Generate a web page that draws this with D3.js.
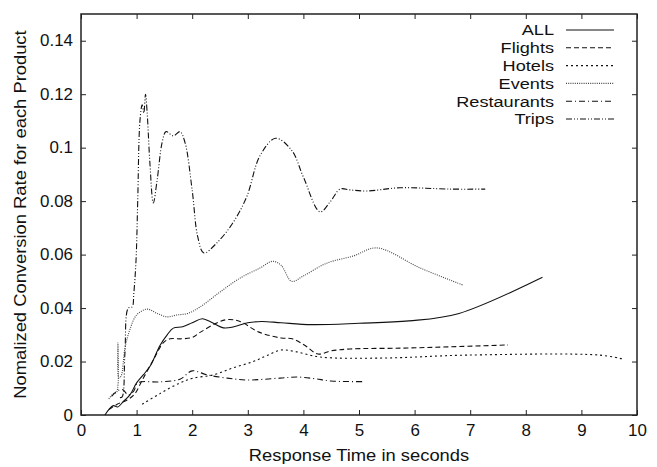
<!DOCTYPE html>
<html><head><meta charset="utf-8">
<script src="https://cdn.jsdelivr.net/npm/d3@7"></script>
<style>
body{margin:0;background:#fff}
svg{display:block;font-family:"Liberation Sans",Arial,Helvetica,sans-serif}
</style></head>
<body><svg id="c" width="657" height="467"></svg>
<script>
const xTicks = [0,1,2,3,4,5,6,7,8,9,10];
const yTicks = [0,0.02,0.04,0.06,0.08,0.1,0.12,0.14];
const yTickLabels = ["0","0.02","0.04","0.06","0.08","0.1","0.12","0.14"];
const seriesNames = ["ALL","Flights","Hotels","Events","Restaurants","Trips"];

const allData = [[0.43,0],[0.5,0.002],[0.58,0.0035],[0.66,0.003],[0.76,0.005],[0.88,0.0075],[1.0,0.012],[1.12,0.015],[1.25,0.0185],[1.42,0.026],[1.55,0.030],[1.66,0.0325],[1.83,0.033],[2.0,0.0345],[2.18,0.036],[2.32,0.035],[2.56,0.0326],[2.75,0.033],[3.0,0.0345],[3.25,0.035],[3.6,0.0345],[4.15,0.0338],[5.0,0.0343],[5.9,0.0352],[6.8,0.038],[8.3,0.0515]];
const flightsData = [[0.5,0.002],[0.65,0.004],[0.83,0.0056],[0.97,0.008],[1.1,0.013],[1.3,0.0206],[1.48,0.027],[1.6,0.0285],[1.8,0.0285],[2.0,0.029],[2.15,0.031],[2.44,0.0344],[2.63,0.0357],[2.86,0.035],[3.2,0.031],[3.6,0.0288],[3.8,0.0285],[4.03,0.026],[4.26,0.0228],[4.5,0.024],[4.84,0.0247],[5.74,0.025],[6.64,0.0255],[7.68,0.0262]];
const hotelsData = [[1.1,0.004],[1.42,0.008],[1.78,0.012],[2.02,0.0138],[2.38,0.015],[2.73,0.0176],[3.1,0.02],[3.34,0.0222],[3.6,0.0243],[3.88,0.0236],[4.3,0.0217],[5.43,0.0213],[6.94,0.0224],[9.33,0.0224],[9.73,0.021]];
const eventsData = [[0.5,0.006],[0.58,0.008],[0.64,0.0085],[0.665,0.027],[0.68,0.014],[0.72,0.0145],[0.79,0.025],[0.88,0.032],[1.0,0.0374],[1.19,0.0396],[1.37,0.038],[1.55,0.0367],[1.72,0.0374],[1.92,0.038],[2.14,0.0404],[2.5,0.046],[2.86,0.0512],[3.22,0.055],[3.45,0.0575],[3.6,0.056],[3.79,0.05],[4.0,0.052],[4.42,0.0568],[4.9,0.0595],[5.32,0.0625],[6.1,0.055],[6.87,0.0486]];
const restaurantsData = [[0.55,0.007],[0.65,0.009],[0.75,0.0095],[0.85,0.0075],[0.95,0.009],[1.02,0.012],[1.42,0.0124],[1.78,0.0134],[2.0,0.0165],[2.27,0.015],[2.63,0.0138],[2.98,0.0131],[3.58,0.0138],[3.9,0.0142],[4.2,0.0136],[4.5,0.0127],[5.1,0.0125]];
const tripsData = [[0.7,0.0065],[0.74,0.0068],[0.79,0.023],[0.85,0.04],[0.92,0.0404],[0.95,0.0456],[0.99,0.058],[1.02,0.08],[1.06,0.11],[1.1,0.116],[1.13,0.113],[1.16,0.12],[1.19,0.113],[1.24,0.094],[1.3,0.0793],[1.37,0.088],[1.46,0.102],[1.53,0.106],[1.66,0.1044],[1.78,0.106],[1.87,0.102],[2.0,0.084],[2.1,0.0666],[2.21,0.0606],[2.44,0.0643],[2.73,0.0718],[2.98,0.0816],[3.22,0.097],[3.5,0.1035],[3.79,0.099],[4.0,0.089],[4.3,0.076],[4.48,0.0797],[4.66,0.0845],[4.84,0.0842],[5.14,0.0838],[5.74,0.085],[6.64,0.0845],[7.27,0.0845]];

const seriesData = [allData,flightsData,hotelsData,eventsData,restaurantsData,tripsData];
const dashes = [null,"5,3","2,3","1,1.2","6,3,1,3","6,2,1,2,1,2"];
const strokes = ["#111","#111","#111","#444","#111","#111"];

const W=657,H=467, m={l:81,r:20,t:14,b:52};
const svg=d3.select("#c");
const x=d3.scaleLinear().domain([0,10]).range([m.l,W-m.r]);
const y=d3.scaleLinear().domain([0,0.15]).range([H-m.b,m.t]);
const fsTick=16, fsLeg=15.5, fsTitle=17;

function widen(sel,k){
  sel.each(function(){
    const t=d3.select(this);
    const x0=+t.attr("x")||0;
    t.attr("x",x0/k).attr("transform",`scale(${k},1)`);
  });
}

// axes
const gB=svg.append("g").attr("transform",`translate(0,${H-m.b})`)
  .call(d3.axisBottom(x).tickValues(xTicks).tickSize(-5).tickPadding(10).tickFormat(d3.format("d")));
const gL=svg.append("g").attr("transform",`translate(${m.l},0)`)
  .call(d3.axisLeft(y).tickValues(yTicks).tickSize(-5).tickPadding(8).tickFormat((d,i)=>yTickLabels[i]));
const gT=svg.append("g").attr("transform",`translate(0,${m.t})`)
  .call(d3.axisTop(x).tickValues(xTicks).tickSize(-5).tickFormat(""));
const gR=svg.append("g").attr("transform",`translate(${W-m.r},0)`)
  .call(d3.axisRight(y).tickValues(yTicks).tickSize(-5).tickFormat(""));
[gB,gL,gT,gR].forEach(g=>{
  g.select(".domain").remove();
  g.selectAll("line").attr("stroke","#222").attr("stroke-width",1);
  g.selectAll("text").attr("font-size",fsTick).attr("fill","#111").attr("font-family","Liberation Sans, Arial, sans-serif");
});
widen(gB.selectAll("text"),1.06);
widen(gL.selectAll("text"),1.06);
svg.append("rect").attr("x",m.l).attr("y",m.t).attr("width",W-m.l-m.r).attr("height",H-m.t-m.b)
  .attr("fill","none").attr("stroke","#222").attr("stroke-width",1.5);

// lines
const line=d3.line().x(d=>x(d[0])).y(d=>y(d[1])).curve(d3.curveCatmullRom.alpha(0.5));
seriesData.forEach((data,i)=>{
  svg.append("path").datum(data).attr("d",line).attr("fill","none")
    .attr("stroke",strokes[i]).attr("stroke-width",1.1)
    .attr("stroke-dasharray",dashes[i]);
});

// legend
const lg=svg.append("g");
seriesNames.forEach((n,i)=>{
  const yy=30+i*17.8;
  lg.append("g").attr("transform",`translate(554,${yy}) scale(1.17,1)`)
    .append("text").attr("dy","0.35em").attr("text-anchor","end")
    .attr("font-size",fsLeg).attr("fill","#111").text(n);
  lg.append("line").attr("x1",566).attr("x2",614).attr("y1",yy).attr("y2",yy)
    .attr("stroke",strokes[i]).attr("stroke-width",1.1).attr("stroke-dasharray",dashes[i]);
});

// axis titles
svg.append("g").attr("transform",`translate(${(m.l+W-m.r)/2},455) scale(1.08,1)`)
  .append("text").attr("dy","0.35em").attr("text-anchor","middle")
  .attr("font-size",fsTitle).attr("fill","#111").text("Response Time in seconds");
svg.append("g").attr("transform",`translate(20,${(m.t+H-m.b)/2}) rotate(-90) scale(1.08,1)`)
  .append("text").attr("dy","0.35em")
  .attr("text-anchor","middle").attr("font-size",fsTitle).attr("fill","#111").text("Nomalized Conversion Rate for each Product");
</script></body></html>
